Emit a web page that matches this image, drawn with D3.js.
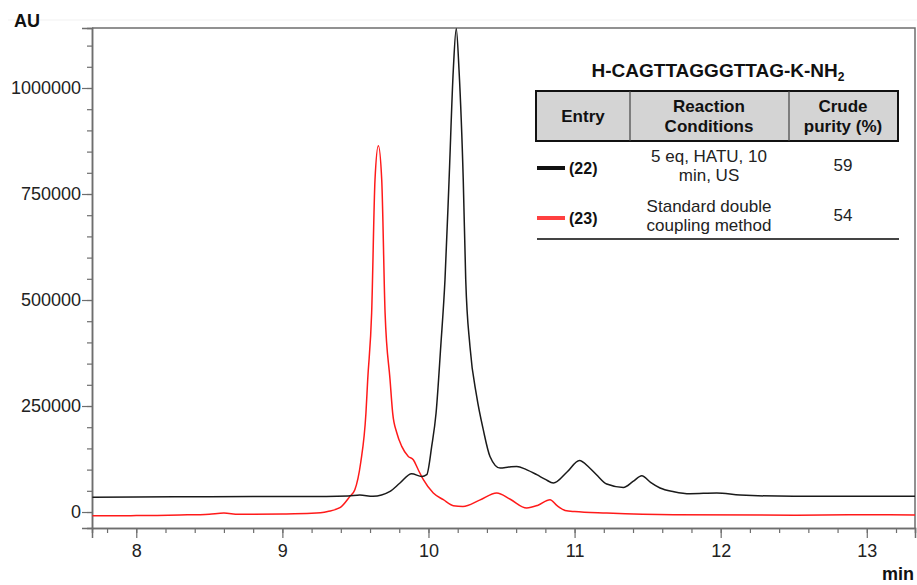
<!DOCTYPE html>
<html>
<head>
<meta charset="utf-8">
<script src="https://cdn.jsdelivr.net/npm/d3@7"></script>
<style>
  html, body { margin: 0; padding: 0; background: #fff; }
  svg { display: block; font-family: "Liberation Sans", Arial, sans-serif; }
</style>
</head>
<body>
<svg id="chart" width="917" height="585"></svg>
<script>
// ---- data (retention time in min, signal in AU) ----
const timeBlack = [7.70, 8.0, 8.5, 9.0, 9.3, 9.45, 9.53, 9.62, 9.737, 9.805, 9.885, 9.954, 9.988, 10.022, 10.052, 10.084, 10.113, 10.141, 10.170, 10.190, 10.209, 10.238, 10.255, 10.284, 10.330, 10.375, 10.421, 10.490, 10.55, 10.604, 10.67, 10.741, 10.80, 10.855, 10.95, 11.033, 11.10, 11.15, 11.220, 11.334, 11.40, 11.460, 11.52, 11.585, 11.68, 11.790, 11.973, 12.133, 12.5, 13.0, 13.33];
const auBlack   = [35000, 35500, 36000, 36500, 36500, 37500, 40000, 37000, 48600, 68400, 90300, 83900, 88000, 154700, 233400, 390500, 547800, 783600, 1043000, 1140000, 1043000, 783600, 547800, 390500, 272600, 194100, 131100, 103800, 106000, 107500, 100000, 88000, 77000, 68400, 95000, 121700, 105000, 88000, 66000, 58000, 72000, 85600, 70000, 56600, 48000, 43200, 44800, 40100, 37000, 37000, 37000];

const timeRed = [7.70, 8.0, 8.3, 8.5, 8.6, 8.7, 9.0, 9.2, 9.31, 9.394, 9.462, 9.496, 9.536, 9.572, 9.584, 9.611, 9.634, 9.657, 9.680, 9.703, 9.737, 9.755, 9.783, 9.817, 9.862, 9.896, 9.930, 9.965, 10.033, 10.102, 10.170, 10.236, 10.35, 10.467, 10.56, 10.672, 10.75, 10.832, 10.88, 10.935, 11.0, 11.22, 11.676, 12.5, 12.9, 13.33];
const auRed   = [-8700, -8500, -7000, -5000, -2500, -5500, -4700, -3000, 1400, 10100, 36800, 52600, 116200, 233400, 312000, 469200, 783600, 863700, 783600, 469200, 312000, 233400, 187000, 154700, 131100, 123300, 99700, 76200, 44800, 29000, 14900, 13200, 28000, 44800, 30000, 9400, 16000, 29000, 15000, 3800, 1000, -2400, -6400, -7500, -6500, -7000];

const xMajor = [8, 9, 10, 11, 12, 13];
const xMinor = d3.range(7.8, 13.3, 0.2).map(v => +v.toFixed(1));
const yMajor = [0, 250000, 500000, 750000, 1000000];
const yMinor = d3.range(0, 1141000, 50000);

const tableTitle = "H-CAGTTAGGGTTAG-K-NH";
const tableHeaders = [["Entry"], ["Reaction", "Conditions"], ["Crude", "purity (%)"]];
const entries = ["(22)", "(23)"];
const conditions = [["5 eq, HATU, 10", "min, US"], ["Standard double", "coupling method"]];
const purity = ["59", "54"];
const seriesColors = ["#1a1a1a", "#ff1a1a"];
const legendColors = ["#111111", "#ff4040"];

// ---- layout ----
const svg = d3.select("#chart");
const L = 92, R = 915, T = 28, B = 528;
const x = d3.scaleLinear().domain([7.697, 13.33]).range([L, R]);
const y = d3.scaleLinear().domain([-37700, 1141500]).range([B, T]);
const axisColor = "#6e6e6e";

// faint guide line at top
svg.append("line").attr("x1", 8).attr("x2", 917).attr("y1", 20).attr("y2", 20)
  .attr("stroke", "#f1f1f1").attr("stroke-width", 1);

// frame (top + right)
svg.append("path")
  .attr("d", `M${L},${T}H${R}V${B}`)
  .attr("fill", "none").attr("stroke", axisColor).attr("stroke-width", 1.5);

// clip
svg.append("clipPath").attr("id", "clip").append("rect")
  .attr("x", L).attr("y", T).attr("width", R - L).attr("height", B - T);

// x axis
const gx = svg.append("g").attr("transform", `translate(0,${B})`);
gx.call(d3.axisBottom(x).tickValues(xMinor).tickSize(5).tickFormat(""));
const gxM = svg.append("g").attr("transform", `translate(0,${B})`);
gxM.call(d3.axisBottom(x).tickValues(xMajor).tickSize(10).tickPadding(6).tickFormat(d3.format("d")));
[gx, gxM].forEach(g => {
  g.select(".domain").attr("stroke", axisColor).attr("stroke-width", 1.5);
  g.selectAll(".tick line").attr("stroke", axisColor).attr("stroke-width", 1.2);
  g.selectAll("text").attr("font-size", 18).attr("fill", "#222").attr("font-family", "Liberation Sans, Arial, sans-serif");
});

// y axis
const gy = svg.append("g").attr("transform", `translate(${L},0)`);
gy.call(d3.axisLeft(y).tickValues(yMinor).tickSize(5).tickFormat(""));
const gyM = svg.append("g").attr("transform", `translate(${L},0)`);
gyM.call(d3.axisLeft(y).tickValues(yMajor).tickSize(10).tickPadding(1).tickFormat(d3.format("d")));
[gy, gyM].forEach(g => {
  g.select(".domain").attr("stroke", axisColor).attr("stroke-width", 1.5);
  g.selectAll(".tick line").attr("stroke", axisColor).attr("stroke-width", 1.2);
  g.selectAll("text").attr("font-size", 18).attr("fill", "#222").attr("font-family", "Liberation Sans, Arial, sans-serif");
});

// axis titles
svg.append("text").attr("x", 14).attr("y", 27).attr("font-size", 18).attr("font-weight", "bold")
  .attr("fill", "#111").text("AU");
svg.append("text").attr("x", 914).attr("y", 580).attr("text-anchor", "end").attr("font-size", 18)
  .attr("font-weight", "bold").attr("fill", "#111").text("min");

// lines
const line = d3.line().x(d => x(d[0])).y(d => y(d[1])).curve(d3.curveMonotoneX);
const series = [d3.zip(timeRed, auRed), d3.zip(timeBlack, auBlack)];
const colors = [seriesColors[1], seriesColors[0]];
svg.append("g").attr("clip-path", "url(#clip)")
  .selectAll("path").data(series).join("path")
  .attr("d", line).attr("fill", "none")
  .attr("stroke", (d, i) => colors[i]).attr("stroke-width", 1.5)
  .attr("stroke-linejoin", "round");

// ---- table / legend ----
const tg = svg.append("g");
const title = tg.append("text").attr("x", 718).attr("y", 77).attr("text-anchor", "middle")
  .attr("font-size", 19).attr("font-weight", "bold").attr("fill", "#111");
title.append("tspan").text(tableTitle);
title.append("tspan").attr("font-size", 12).attr("dy", 4).text("2");

const colX = [536, 630, 789, 898];
tg.append("rect").attr("x", colX[0]).attr("y", 91).attr("width", colX[3] - colX[0]).attr("height", 50)
  .attr("fill", "#d4d4d4").attr("stroke", "#111").attr("stroke-width", 2);
[colX[1], colX[2]].forEach(cx => tg.append("line").attr("x1", cx).attr("x2", cx).attr("y1", 91).attr("y2", 141)
  .attr("stroke", "#444").attr("stroke-width", 1.2));

const colCenters = [583, 709, 843];
tableHeaders.forEach((lines, i) => {
  const baselines = lines.length === 1 ? [122] : [111.5, 131.5];
  lines.forEach((t, j) => tg.append("text").attr("x", colCenters[i]).attr("y", baselines[j])
    .attr("text-anchor", "middle").attr("font-size", 17).attr("font-weight", "bold").attr("fill", "#111").text(t));
});

const rowCenters = [168, 218];
entries.forEach((e, i) => {
  const cy = rowCenters[i];
  tg.append("line").attr("x1", 537).attr("x2", 565).attr("y1", cy).attr("y2", cy)
    .attr("stroke", legendColors[i]).attr("stroke-width", 4);
  tg.append("text").attr("x", 569).attr("y", cy + 6).attr("font-size", 16).attr("font-weight", "bold")
    .attr("fill", "#111").text(e);
  conditions[i].forEach((t, j) => tg.append("text").attr("x", colCenters[1]).attr("y", cy - 6.5 + j * 19.5)
    .attr("text-anchor", "middle").attr("font-size", 17).attr("fill", "#222").text(t));
  tg.append("text").attr("x", colCenters[2]).attr("y", cy + 3).attr("text-anchor", "middle")
    .attr("font-size", 17).attr("fill", "#222").text(purity[i]);
});
tg.append("line").attr("x1", 537).attr("x2", 899).attr("y1", 239).attr("y2", 239)
  .attr("stroke", "#444").attr("stroke-width", 2);
</script>
</body>
</html>
